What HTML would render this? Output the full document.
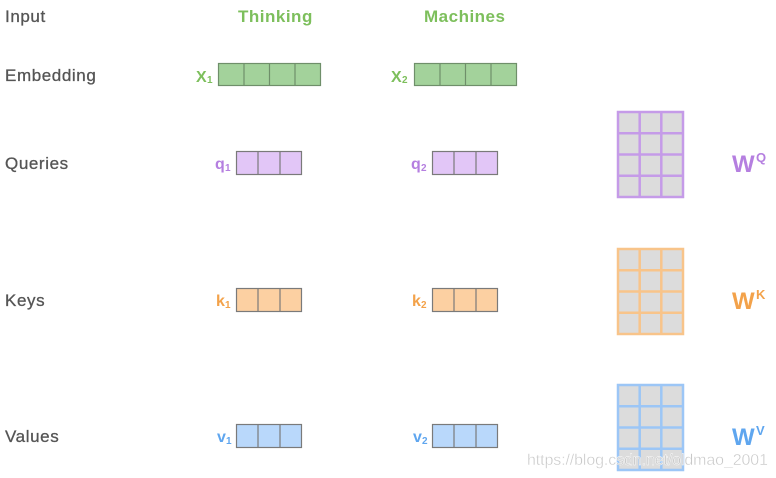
<!DOCTYPE html>
<html><head><meta charset="utf-8"><style>
html,body{margin:0;padding:0;background:#fff;}
svg{display:block;}
text{font-family:"Liberation Sans","DejaVu Sans",sans-serif;}
</style></head><body>
<svg width="776" height="478" viewBox="0 0 776 478" xmlns="http://www.w3.org/2000/svg">
<rect width="776" height="478" fill="#fff"/>
<g font-size="17" fill="#555" letter-spacing="0.6" stroke="#555" stroke-width="0.3">
<text x="5" y="22">Input</text>
<text x="5" y="81">Embedding</text>
<text x="5" y="169">Queries</text>
<text x="5" y="306">Keys</text>
<text x="5" y="442">Values</text>
</g>
<g font-size="17" font-weight="bold" fill="#7dbf5c" letter-spacing="0.5">
<text x="238" y="22">Thinking</text>
<text x="424" y="22">Machines</text>
</g>
<g stroke="#6f8f6a" stroke-width="1.2" fill="#a3d29b">
<rect x="218.5" y="63.5" width="102" height="22"/>
<path d="M244 63.5V85.5M269.5 63.5V85.5M295 63.5V85.5" fill="none"/>
<rect x="414.5" y="63.5" width="102" height="22"/>
<path d="M440 63.5V85.5M465.5 63.5V85.5M491 63.5V85.5" fill="none"/>
</g>
<g font-weight="bold" fill="#7dbf5c">
<text x="196" y="82" font-size="16">X</text><text x="207" y="83" font-size="10">1</text>
<text x="391" y="82" font-size="16">X</text><text x="402" y="83" font-size="10">2</text>
</g>
<g stroke="#7a7a7a" stroke-width="1.2">
<g fill="#e2c6f7"><rect x="236.5" y="151.5" width="65" height="23"/><rect x="432.5" y="151.5" width="65" height="23"/></g>
<g fill="#fcd0a2"><rect x="236.5" y="288.5" width="65" height="23"/><rect x="432.5" y="288.5" width="65" height="23"/></g>
<g fill="#b9d8fb"><rect x="236.5" y="424.5" width="65" height="23"/><rect x="432.5" y="424.5" width="65" height="23"/></g>
<path fill="none" d="M258 151.5v23M280 151.5v23M454 151.5v23M476 151.5v23M258 288.5v23M280 288.5v23M454 288.5v23M476 288.5v23M258 424.5v23M280 424.5v23M454 424.5v23M476 424.5v23"/>
</g>
<g font-weight="bold">
<text x="215" y="169" font-size="16" fill="#b57fe0">q</text><text x="225" y="171" font-size="10" fill="#b57fe0">1</text>
<text x="411" y="169" font-size="16" fill="#b57fe0">q</text><text x="421" y="171" font-size="10" fill="#b57fe0">2</text>
<text x="216" y="306" font-size="16" fill="#f3a24a">k</text><text x="225" y="308" font-size="10" fill="#f3a24a">1</text>
<text x="412" y="306" font-size="16" fill="#f3a24a">k</text><text x="421" y="308" font-size="10" fill="#f3a24a">2</text>
<text x="217" y="442" font-size="16" fill="#5fa6ef">v</text><text x="226" y="444" font-size="10" fill="#5fa6ef">1</text>
<text x="413" y="442" font-size="16" fill="#5fa6ef">v</text><text x="422" y="444" font-size="10" fill="#5fa6ef">2</text>
</g>
<g fill="#dcdcdc" stroke-width="2.5">
<g stroke="#c59be8">
<rect x="618" y="112" width="65" height="85"/>
<path fill="none" d="M639.7 112v85M661.3 112v85M618 133.25h65M618 154.5h65M618 175.75h65"/>
</g>
<g stroke="#f8c48a">
<rect x="618" y="249" width="65" height="85"/>
<path fill="none" d="M639.7 249v85M661.3 249v85M618 270.25h65M618 291.5h65M618 312.75h65"/>
</g>
<g stroke="#9cc6f6">
<rect x="618" y="385" width="65" height="85"/>
<path fill="none" d="M639.7 385v85M661.3 385v85M618 406.25h65M618 427.5h65M618 448.75h65"/>
</g>
</g>
<g font-weight="bold">
<text x="732" y="172" font-size="24" fill="#b57fe0">W</text><text x="756" y="162" font-size="13" fill="#b57fe0">Q</text>
<text x="732" y="309" font-size="24" fill="#f3a24a">W</text><text x="756" y="299" font-size="13" fill="#f3a24a">K</text>
<text x="732" y="445" font-size="24" fill="#5fa6ef">W</text><text x="756" y="435" font-size="13" fill="#5fa6ef">V</text>
</g>
<text x="527" y="465" font-size="16" fill="#c8c8c8" stroke="#fff" stroke-width="0.4" textLength="241">https://blog.csdn.net/oldmao_2001</text>
</svg>
</body></html>
